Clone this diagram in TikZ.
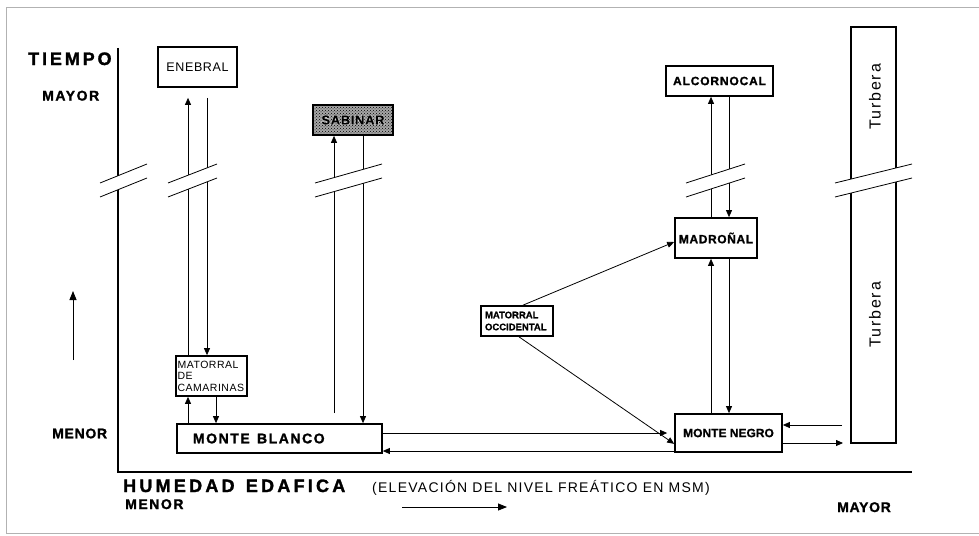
\documentclass[tikz,border=0pt]{standalone}
\usepackage{fontspec}
\setmainfont{Liberation Sans}
\newfontfamily\lsA[LetterSpace=16,BoldFeatures={FakeBold=1.5}]{Liberation Sans}
\newfontfamily\lsB[LetterSpace=11,BoldFeatures={FakeBold=1.5}]{Liberation Sans}
\newfontfamily\lsC[LetterSpace=18,BoldFeatures={FakeBold=1.5}]{Liberation Sans}
\newfontfamily\lsD[LetterSpace=7,BoldFeatures={FakeBold=1.2}]{Liberation Sans}
\newfontfamily\lsF[LetterSpace=9]{Liberation Sans}
\newfontfamily\lsE[LetterSpace=5,BoldFeatures={FakeBold=1.2}]{Liberation Sans}
\newfontfamily\lsH[LetterSpace=5,BoldFeatures={FakeBold=7}]{Liberation Sans}
\newfontfamily\lsG[BoldFeatures={FakeBold=1.0}]{Liberation Sans}
\usetikzlibrary{arrows.meta,patterns}
\newcommand\mybreak[2]{%
  \fill[white] (#1,183) -- (#2,164) -- (#2,178) -- (#1,197) -- cycle;
  \draw[brk] (#1,183) -- (#2,164) (#1,197) -- (#2,178);}
\begin{document}
\begin{tikzpicture}[x=1pt,y=-1pt,
  box/.style={draw,line width=1.7pt,inner sep=0pt},
  arr/.style={line width=0.8pt,-{Triangle[length=7pt,width=6pt]}},
  brk/.style={line width=0.8pt},
  lab/.style={inner sep=0pt,anchor=base west},
  axis/.style={line width=2pt},
]
\useasboundingbox (0,0) rectangle (979,535);
\draw[gray!60,line width=0.8pt] (979,7) -- (6,7) -- (6,533) -- (979,533);

% axes
\coordinate (o) at (118,472);
\coordinate (ytop) at (118,48);
\coordinate (xend) at (912,472);
\draw[axis] (ytop) -- (o) -- (xend);

% labels
\node[lab] (tiempo) at (28,65) {\fontsize{18}{20}\selectfont\lsA\bfseries TIEMPO};
\node[lab] (mayor1) at (42,100.5) {\fontsize{14}{16}\selectfont\lsB\bfseries MAYOR};
\node[lab] (menor1) at (52,438.3) {\fontsize{14}{16}\selectfont\lsE\bfseries MENOR};
\node[lab] (humedad) at (123,492) {\fontsize{18}{20}\selectfont\lsC\bfseries HUMEDAD\hspace{3pt} EDAFICA};
\node[lab] (elev) at (372,492) {\fontsize{14}{16}\selectfont\lsF (ELEVACIÓN DEL NIVEL FREÁTICO EN MSM)};
\node[lab] (menor2) at (125,509) {\fontsize{14}{16}\selectfont\lsB\bfseries MENOR};
\node[lab] (mayor2) at (837,512) {\fontsize{14}{16}\selectfont\lsE\bfseries MAYOR};

% free-end arrows
\coordinate (la1) at (73,360);
\coordinate (la2) at (73,291);
\draw[arr,-{Triangle[length=9pt,width=7pt]}] (la1) -- (la2);
\coordinate (ba1) at (402,507);
\coordinate (ba2) at (507,507);
\draw[arr,-{Triangle[length=9pt,width=7pt]}] (ba1) -- (ba2);

% boxes
\node[box,minimum width=79pt,minimum height=40pt] (en) at (197.5,67)
  {\fontsize{12.5}{14}\selectfont\lsE ENEBRAL};
\node[box,preaction={fill=black!35},pattern=crosshatch dots,pattern color=black,minimum width=80pt,minimum height=30pt] (sa) at (353,120) {};
\node[inner sep=0pt,text=white] (sahalo) at (sa.center)
  {\fontsize{13}{15}\selectfont\lsH\bfseries SABINAR};
\node[inner sep=0pt] (satext) at (sa.center)
  {\fontsize{13}{15}\selectfont\lsE\bfseries SABINAR};
\node[box,minimum width=107pt,minimum height=30pt] (al) at (719.5,81)
  {\fontsize{12}{14}\selectfont\lsD\bfseries ALCORNOCAL};
\node[box,minimum width=82pt,minimum height=40pt] (md) at (716,238)
  {\fontsize{12}{14}\selectfont\lsE\bfseries MADROÑAL};
\node[box,minimum height=30pt,text width=64pt,inner xsep=4pt,align=left] (mo) at (517,321)
  {\fontsize{9.5}{11.5}\selectfont\lsG\bfseries MATORRAL\\OCCIDENTAL};
\node[box,minimum width=107pt,minimum height=38pt] (mn) at (728.5,433)
  {\fontsize{12}{14}\selectfont\lsG\bfseries MONTE NEGRO};
\node[box,minimum height=29pt,text width=173pt,inner xsep=16pt,align=left] (mb) at (279.5,438.5)
  {\fontsize{14}{16}\selectfont\lsB\bfseries MONTE\hspace{4pt} BLANCO};
\node[box,minimum height=40pt,text width=68pt,inner xsep=1.5pt,align=left] (mc) at (211.5,376)
  {\fontsize{10.5}{11}\selectfont\lsE MATORRAL\\DE\\CAMARINAS};
\node[box,minimum width=45pt,minimum height=416pt] (tu) at (873.5,235) {};
\node[rotate=90,inner sep=0pt] (tu1) at (875,97) {\fontsize{16}{18}\selectfont\lsB Turbera};
\node[rotate=90,inner sep=0pt] (tu2) at (875,315) {\fontsize{16}{18}\selectfont\lsB Turbera};

% x positions of vertical connectors
\coordinate (xa) at (188,0);
\coordinate (xb) at (207,0);
\coordinate (xc) at (216,0);
\coordinate (xd) at (334,0);
\coordinate (xe) at (363,0);
\coordinate (xf) at (523,0);
\coordinate (xg) at (519,0);
\coordinate (xh) at (711,0);
\coordinate (xi) at (729,0);
\coordinate (ya) at (0,433);
\coordinate (yb) at (0,451);
\coordinate (sabup) at (334,413);
\coordinate (tin) at (842,425);
\coordinate (tout) at (843,443);

% connectors
\draw[arr,shorten >=10pt] (mc.north -| xa) -- (en.south -| xa);
\draw[arr,shorten <=10pt] (en.south -| xb) -- (mc.north -| xb);
\draw[arr] (mb.north -| xa) -- (mc.south -| xa);
\draw[arr] (mc.south -| xc) -- (mb.north -| xc);
\draw[arr] (sabup) -- (sa.south -| xd);
\draw[arr] (sa.south -| xe) -- (mb.north -| xe);
\draw[arr,shorten >=7pt] (mb.east |- ya) -- (mn.west |- ya);
\draw[arr] (mn.west |- yb) -- (mb.east |- yb);
\draw[arr] (tin) -- (mn.east |- tin);
\draw[arr] (mn.east |- tout) -- (tout);
\draw[arr] (mo.north -| xf) -- ([yshift=-4pt]md.west);
\draw[arr] (mo.south -| xg) -- ([yshift=9pt]mn.south west);
\draw[arr] (md.north -| xh) -- (al.south -| xh);
\draw[arr] (al.south -| xi) -- (md.north -| xi);
\draw[arr] (mn.north -| xh) -- (md.south -| xh);
\draw[arr] (md.south -| xi) -- (mn.north -| xi);

% breaks
\mybreak{100}{147}
\mybreak{168}{217}
\mybreak{315}{382}
\mybreak{686}{745}
\mybreak{835}{912}
\end{tikzpicture}
\end{document}
